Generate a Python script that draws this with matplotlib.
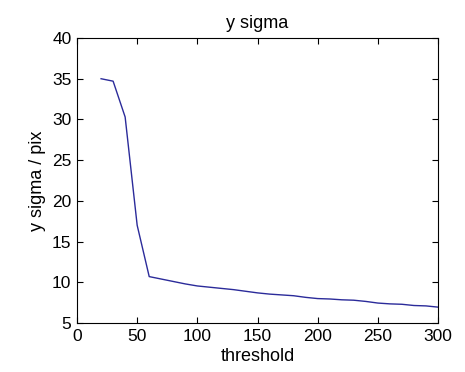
import matplotlib
matplotlib.use("Agg")
import matplotlib.pyplot as plt

# ---------------- DATA ----------------
threshold = [20, 30, 40, 50, 60, 70, 80, 90, 100, 110, 120, 130, 140, 150,
             160, 170, 180, 190, 200, 210, 220, 230, 240, 250, 260, 270,
             280, 290, 300]
y_sigma = [35.0, 34.7, 30.3, 17.0, 10.7, 10.4, 10.1, 9.8, 9.55, 9.4, 9.25,
           9.1, 8.9, 8.7, 8.55, 8.45, 8.35, 8.15, 8.0, 7.95, 7.85, 7.8, 7.65,
           7.45, 7.35, 7.3, 7.15, 7.1, 6.95]

# ---------------- PLOT ----------------
plt.rcParams['font.family'] = ['Liberation Sans', 'DejaVu Sans']

fig = plt.figure(figsize=(4.65, 3.72), dpi=100)
ax = fig.add_axes([0.1656, 0.1317, 0.7764, 0.7661])

ax.plot(threshold, y_sigma, color='#2b2b9a', linewidth=1.0)

ax.set_xlim(0, 300)
ax.set_ylim(5, 40)
ax.set_xticks(range(0, 301, 50))
ax.set_yticks(range(5, 41, 5))
ax.tick_params(direction='in', top=True, right=True, labelsize=12.5,
               length=4, width=0.8, pad=4)
for s in ax.spines.values():
    s.set_linewidth(0.8)

ax.set_title("y sigma", fontsize=13, pad=7)
ax.set_xlabel("threshold", fontsize=13, labelpad=3)
ax.set_ylabel("y sigma / pix", fontsize=13, labelpad=4)

fig.savefig("out.png", dpi=100)
